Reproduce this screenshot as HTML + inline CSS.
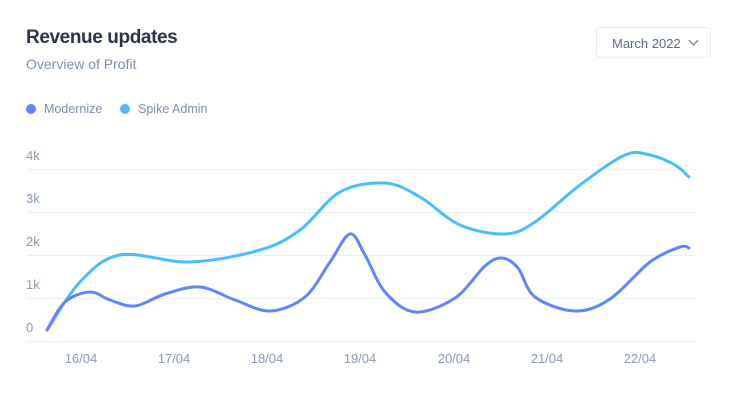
<!DOCTYPE html>
<html><head><style>
body{margin:0;width:735px;height:404px;background:#fff;font-family:"Liberation Sans",sans-serif;position:relative;overflow:hidden}
.t{position:absolute;left:26px;top:27px;font-size:19px;color:#2a3547;font-weight:600;letter-spacing:-0.4px}
.s{position:absolute;left:26px;top:56px;font-size:14px;color:#7c8fac}
.btn{position:absolute;left:596px;top:27px;width:115px;height:31px;border:1px solid #e5eaef;border-radius:4px;font-size:13px;color:#5a6a85;box-sizing:border-box;padding:8px 0 0 15px}
.chev{position:absolute;left:93px;top:9px;width:6px;height:6px;border-right:1.3px solid #5a6a85;border-bottom:1.3px solid #5a6a85;transform:rotate(45deg)}
.lg{position:absolute;top:102px;font-size:12.5px;color:#7c8fac}
.dot{display:inline-block;width:10px;height:10px;border-radius:50%;margin-right:8px;vertical-align:-1px}
</style></head><body>
<div class="t">Revenue updates</div>
<div class="s">Overview of Profit</div>
<div class="btn">March 2022<span class="chev"></span></div>
<div class="lg" style="left:26px"><span class="dot" style="background:#5d87ff"></span>Modernize</div>
<div class="lg" style="left:120px"><span class="dot" style="background:#49beff"></span>Spike Admin</div>
<svg width="735" height="404" style="position:absolute;left:0;top:0" font-family="Liberation Sans,sans-serif" font-size="13" fill="#8a9ab5">
<g stroke="#ebeff4" stroke-width="1">
<line x1="27" x2="698" y1="169.5" y2="169.5"/><line x1="27" x2="698" y1="212.5" y2="212.5"/><line x1="27" x2="698" y1="255.5" y2="255.5"/><line x1="27" x2="698" y1="298.5" y2="298.5"/><line x1="27" x2="698" y1="341.5" y2="341.5"/>
</g>
<text x="26" y="160">4k</text><text x="26" y="203">3k</text><text x="26" y="246">2k</text><text x="26" y="289">1k</text><text x="26" y="332">0</text>
<g text-anchor="middle"><text x="81" y="363">16/04</text><text x="174" y="363">17/04</text><text x="267" y="363">18/04</text><text x="360" y="363">19/04</text><text x="454" y="363">20/04</text><text x="547" y="363">21/04</text><text x="640" y="363">22/04</text></g>
<path id="a" fill="none" stroke="#49beff" stroke-width="3" stroke-linecap="round"/>
<path id="b" fill="none" stroke="#5d87ff" stroke-width="3" stroke-linecap="round"/>
</svg>
<script>
function cr(p){var d="M"+p[0][0]+","+p[0][1];for(var i=0;i<p.length-1;i++){var p0=p[i-1]||p[i],p1=p[i],p2=p[i+1],p3=p[i+2]||p2;d+="C"+(p1[0]+(p2[0]-p0[0])/6)+","+(p1[1]+(p2[1]-p0[1])/6)+" "+(p2[0]-(p3[0]-p1[0])/6)+","+(p2[1]-(p3[1]-p1[1])/6)+" "+p2[0]+","+p2[1];}return d;}
document.getElementById("a").setAttribute("d",cr([[47,330],[80,282],[120,255],[190,262],[260,250],[300,230],[340,192],[385,183],[420,197],[460,225],[505,234],[535,222],[580,185],[625,155],[650,155],[675,165],[689,177]]));
document.getElementById("b").setAttribute("d",cr([[47,330],[65,302],[90,292],[110,300],[135,306],[165,294],[200,287],[235,300],[270,311],[305,297],[330,262],[350,234],[365,255],[385,292],[415,312],[455,298],[485,266],[502,258],[518,268],[535,297],[575,311],[610,299],[650,262],[680,247],[689,248]]));
</script>
</body></html>
